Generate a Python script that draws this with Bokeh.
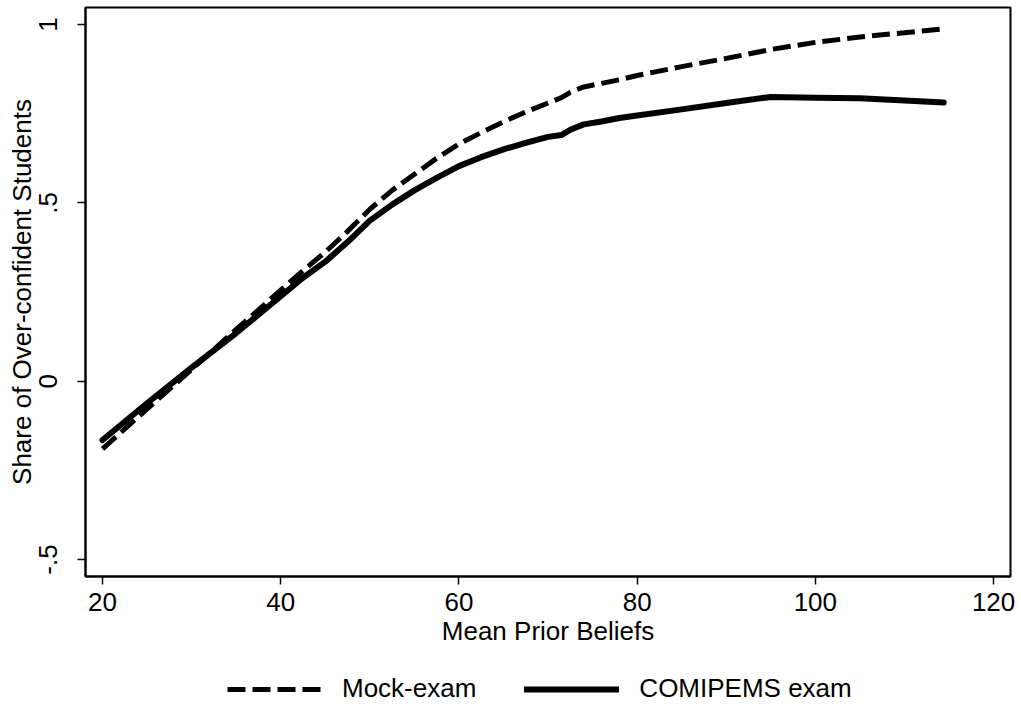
from bokeh.plotting import figure
from bokeh.layouts import column
from bokeh.models import Legend, LegendItem, FixedTicker, Range1d
from bokeh.embed import file_html
from bokeh.resources import INLINE

# Data
prior_beliefs = [20, 25, 30, 35, 40, 42.5, 45, 47.5, 50, 52.5, 55, 57.5, 60, 62.5, 65, 67.5, 70, 71.5,
                 72.5, 74, 76, 78, 80, 85, 90, 95, 100, 105, 110, 114.4]
mock_exam = [-0.19, -0.078, 0.033, 0.145, 0.255, 0.31, 0.362, 0.42, 0.482, 0.535, 0.58, 0.625, 0.665,
             0.697, 0.727, 0.755, 0.78, 0.795, 0.81, 0.825, 0.835, 0.845, 0.857, 0.882, 0.905, 0.93,
             0.95, 0.965, 0.977, 0.988]
comipems_exam = [-0.165, -0.062, 0.038, 0.135, 0.238, 0.29, 0.335, 0.39, 0.45, 0.495, 0.535, 0.57, 0.603,
                 0.628, 0.65, 0.668, 0.685, 0.69, 0.705, 0.72, 0.728, 0.738, 0.745, 0.762, 0.78, 0.797,
                 0.795, 0.793, 0.787, 0.781]

x_ticks = [20, 40, 60, 80, 100, 120]
y_ticks = [-0.5, 0, 0.5, 1]
y_tick_labels = {-0.5: "-.5", 0: "0", 0.5: ".5", 1: "1"}
series_labels = ["Mock-exam", "COMIPEMS exam"]

FONT = "Liberation Sans"
FS = "26px"

p = figure(width=1021, height=660, output_backend="svg", toolbar_location=None,
           x_range=Range1d(18.09, 121.9), y_range=Range1d(-0.5477, 1.0477),
           min_border_left=85, min_border_right=11, min_border_top=7, min_border_bottom=84)

p.grid.visible = False
p.outline_line_color = "black"
p.outline_line_width = 2
p.background_fill_color = "white"
p.border_fill_color = "white"

MOCK_STYLE = dict(line_color="black", line_width=5, line_dash="18 7")
COM_STYLE = dict(line_color="black", line_width=6, line_cap="round", line_join="round")

p.line(prior_beliefs, mock_exam, **MOCK_STYLE)
p.line(prior_beliefs, comipems_exam, **COM_STYLE)

for ax in (p.xaxis[0], p.yaxis[0]):
    ax.axis_line_color = "black"
    ax.axis_line_width = 2
    ax.major_tick_line_color = "black"
    ax.major_tick_line_width = 1.5
    ax.major_tick_out = 8
    ax.major_tick_in = 0
    ax.minor_tick_line_color = None
    ax.major_label_text_font = FONT
    ax.major_label_text_font_size = FS
    ax.major_label_text_color = "black"
    ax.axis_label_text_font = FONT
    ax.axis_label_text_font_size = FS
    ax.axis_label_text_font_style = "normal"
    ax.axis_label_text_color = "black"

p.xaxis.ticker = FixedTicker(ticks=x_ticks)
p.yaxis.ticker = FixedTicker(ticks=y_ticks)
p.yaxis.major_label_overrides = y_tick_labels
p.yaxis.major_label_orientation = "vertical"
p.xaxis.axis_label = "Mean Prior Beliefs"
p.yaxis.axis_label = "Share of Over-confident Students"
p.xaxis.major_label_standoff = 8
p.xaxis.axis_label_standoff = 2
p.yaxis.major_label_standoff = 20
p.yaxis.axis_label_standoff = 0

# Legend strip below the plot (its lines lie outside its ranges, only the legend shows)
lg = figure(width=1021, height=49, output_backend="svg", toolbar_location=None,
            x_axis_type=None, y_axis_type=None, x_range=Range1d(0, 1), y_range=Range1d(0, 1),
            min_border=0)
lg.grid.visible = False
lg.outline_line_color = None
lg.background_fill_color = "white"
lg.border_fill_color = "white"
d_mock = lg.line(prior_beliefs, mock_exam, **MOCK_STYLE)
d_com = lg.line(prior_beliefs, comipems_exam, **COM_STYLE)

legend = Legend(items=[LegendItem(label=series_labels[0], renderers=[d_mock]),
                       LegendItem(label=series_labels[1], renderers=[d_com])],
                orientation="horizontal", location=(142, 5))
legend.border_line_color = None
legend.background_fill_alpha = 0
legend.label_text_font = FONT
legend.label_text_font_size = FS
legend.label_text_color = "black"
legend.glyph_width = 95
legend.label_standoff = 20
legend.spacing = 48
legend.padding = 0
legend.margin = 0
lg.add_layout(legend, "center")

layout = column(p, lg, spacing=0)
open("out.html", "w").write(file_html(layout, INLINE))
